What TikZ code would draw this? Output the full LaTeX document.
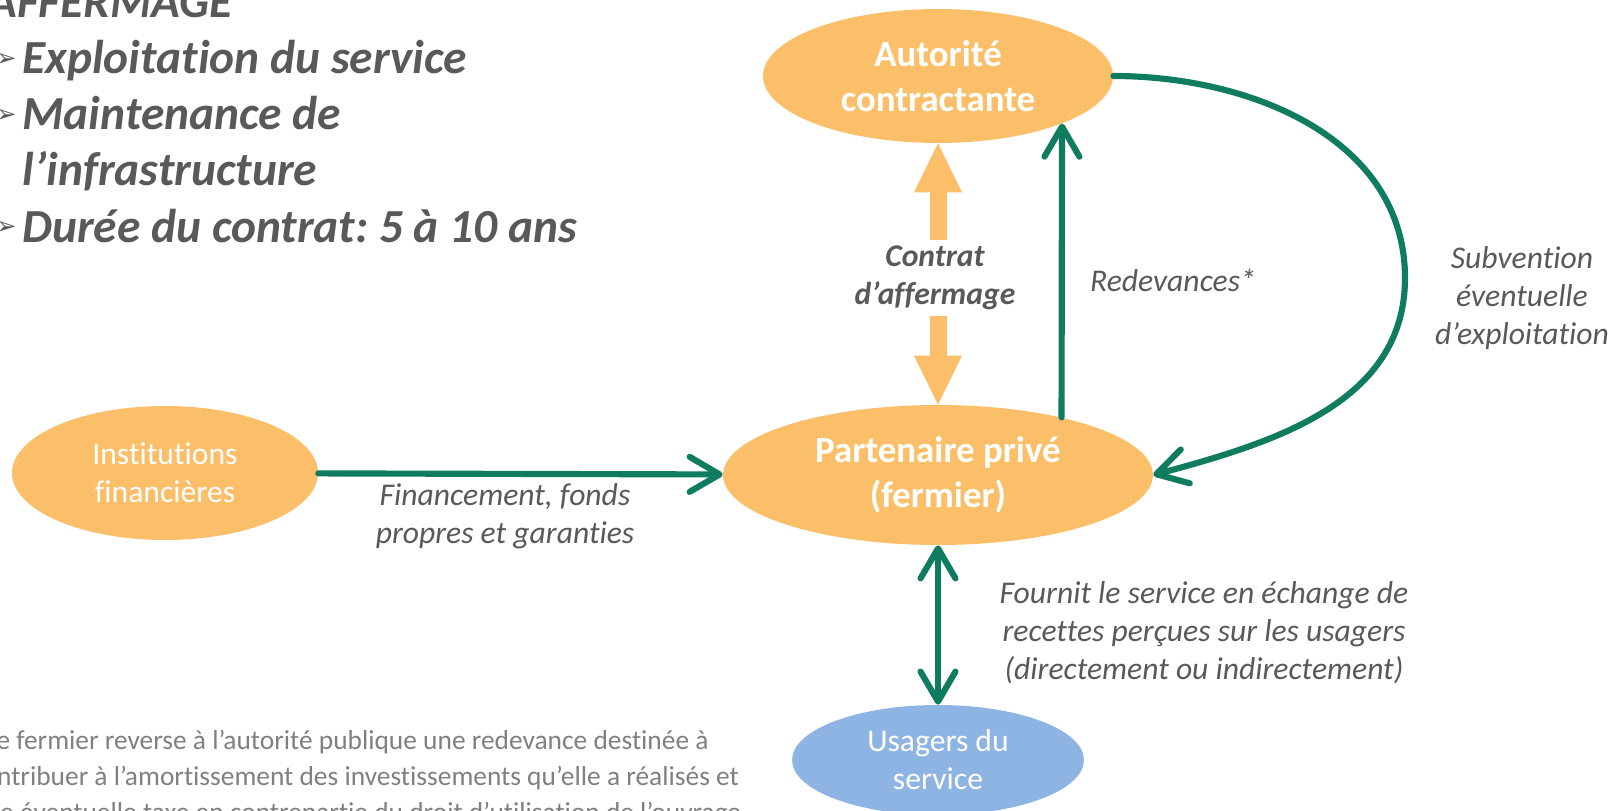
\documentclass[tikz,border=0pt]{standalone}
\usepackage{fontspec}
\setmainfont{Carlito}[Ligatures=NoCommon]
\newfontfamily\dingfont{DejaVu Sans}
\usetikzlibrary{shapes.geometric,arrows.meta,positioning,calc}
\definecolor{peach}{HTML}{FABF68}
\definecolor{skyblue}{HTML}{8EB4E3}
\definecolor{pine}{HTML}{0F7B5F}
\definecolor{ink}{HTML}{595959}
\definecolor{mist}{HTML}{808080}
\frenchspacing

\begin{document}
\begin{tikzpicture}[x=0.02cm,y=-0.02cm]
\tikzstyle{actor}=[ellipse, inner sep=0pt, fill=peach, text=white, align=center]
\tikzstyle{strong}=[font=\fontsize{21}{25.5}\selectfont\bfseries]
\tikzstyle{plain}=[font=\fontsize{18}{21.6}\selectfont]
\tikzstyle{note}=[text=ink, align=center, inner sep=3pt, font=\fontsize{18}{21.6}\selectfont\itshape]
\tikzstyle{head}=[text=ink, inner sep=0pt, font=\fontsize{27}{32}\selectfont\bfseries\itshape]
\tikzstyle{bullet}=[text=ink, inner sep=0pt, font=\dingfont\fontsize{14}{14}\selectfont]
\tikzstyle{foot}=[text=mist, inner sep=0pt, font=\fontsize{15.6}{20.4}\selectfont]
\tikzstyle{flow}=[pine, line width=3.5pt, line cap=round, -{Straight Barb[length=0.6cm,width=0.7cm,round]}]
\tikzstyle{block}=[peach, line width=0.34cm, -{Triangle[length=0.98cm,width=0.96cm,line width=0pt]}]
\useasboundingbox (0,0) rectangle (1614,811);
\clip (0,0) rectangle (1614,811);

	% titre et liste
	\node[head, anchor=base west] (title) at (-12,18) {AFFERMAGE};
	\node[head, anchor=base west] (exploit) at (22,74) {Exploitation du service};
	\node[head, anchor=base west] (maint) at (22,130) {Maintenance de};
	\node[head, anchor=base west] (infra) at (22,186) {l’infrastructure};
	\node[head, anchor=base west] (duree) at (22,242) {Durée du contrat: 5 à 10 ans};
	\node[bullet, anchor=base east] (b_1) at (17,67) {➢};
	\node[bullet, anchor=base east] (b_2) at (17,123) {➢};
	\node[bullet, anchor=base east] (b_3) at (17,235) {➢};

	% acteurs
	\node[actor, strong, minimum width=7cm, minimum height=2.68cm] (auto) at (938,76) {Autorité\\contractante};
	\node[actor, strong, minimum width=8.6cm, minimum height=2.8cm] (part) at (938,475) {Partenaire privé\\(fermier)};
	\node[actor, plain, minimum width=6.12cm, minimum height=2.68cm] (inst) at (165,473) {Institutions\\financières};
	\node[actor, plain, fill=skyblue, minimum width=5.84cm, minimum height=2.2cm] (usag) at (938,760) {Usagers du\\service};

	% etiquettes
	\node[note, font=\fontsize{18}{21.6}\selectfont\bfseries\itshape] (contrat) at (935,278) {Contrat\\d’affermage};
	\node[note] (redev) at (1173,280) {Redevances*};
	\node[note] (subv) at (1522,298) {Subvention\\éventuelle\\d’exploitation};
	\node[note] (fin) at (505,516) {Financement, fonds\\propres et garanties};
	\node[note] (fourn) at (1204,633) {Fournit le service en échange de\\recettes perçues sur les usagers\\(directement ou indirectement)};
	\coordinate (bend) at (1405,278);

	% note
	\node[foot, anchor=base west] (fn_1) at (-29,749) {*Le fermier reverse à l’autorité publique une redevance destinée à};
	\node[foot, anchor=base west] (fn_2) at (-29,785) {contribuer à l’amortissement des investissements qu’elle a réalisés et};
	\node[foot, anchor=base west] (fn_3) at (-29,821) {une éventuelle taxe en contrepartie du droit d’utilisation de l’ouvrage};

	\draw[block] (auto.south |- contrat.north) -- (auto.south);
	\draw[block] (part.north |- contrat.south) -- (part.north);
	\draw[flow] (inst) -- (part);
	\draw[flow] (part.25) -- (auto.-21);
	\draw[flow] (auto.east) to[out=0,in=90] (bend) to[out=-90,in=15] (part.east);
	\draw[flow, {Straight Barb[length=0.6cm,width=0.7cm,round]}-{Straight Barb[length=0.6cm,width=0.7cm,round]}] (part) -- (usag);

\end{tikzpicture}
\end{document}
